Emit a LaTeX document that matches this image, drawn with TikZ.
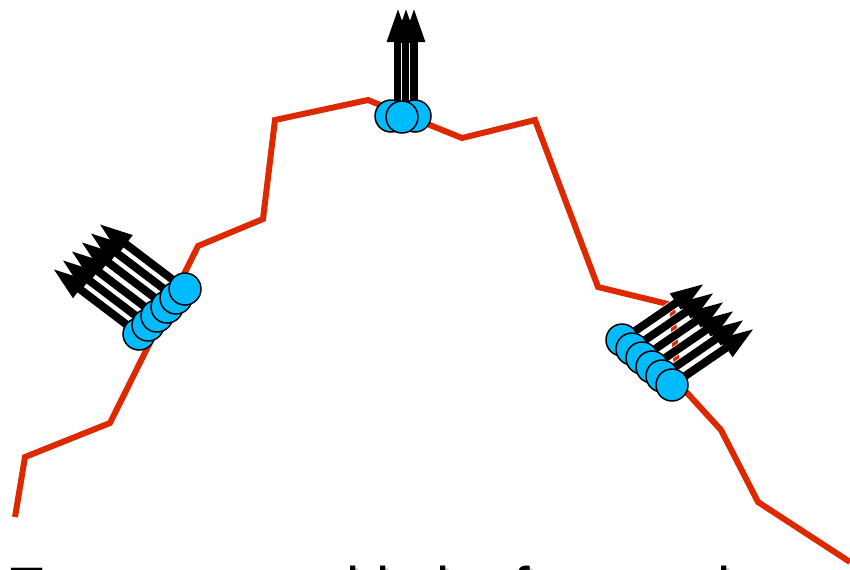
\documentclass[tikz,border=0pt]{standalone}
\usepackage{fontspec}
\setmainfont{Liberation Sans}
\usetikzlibrary{arrows.meta,calc,backgrounds}
\definecolor{ridge}{RGB}{221,40,0}
\definecolor{sky}{RGB}{0,188,255}
\tikzset{pt/.style={circle,draw=black,line width=0.75pt,fill=sky,minimum size=16pt,inner sep=0pt},
  nrm/.style={line width=4pt,-{Triangle[length=17.5pt,width=10pt]},
    preaction={draw=white,line width=4.8pt,arrows=-,shorten >=18pt}},
  ridgeline/.style={draw=ridge,line width=3pt},
  caption/.style={anchor=base west,inner sep=0pt,font=\fontsize{30pt}{36pt}\selectfont}}

\begin{document}
\begin{tikzpicture}[x=0.5pt,y=-0.5pt]
\useasboundingbox (0,0) rectangle (850,569);
% caption, cut by the lower edge
\node[caption,text=gray!45] (capshadow) at (9.5,612){Every normal is its feature in turn};
\node[caption] (cap) at (6.5,609){Every normal is its feature in turn};
% sample points
\node[pt] (t1) at (391,116){}; \node[pt] (t2) at (415,116){}; \node[pt] (t3) at (402,117){};
\node[pt] (l1) at (139,334){}; \node[pt] (l2) at (148,325){}; \node[pt] (l3) at (157,316){};
\node[pt] (l4) at (167,307){}; \node[pt] (l5) at (176,298){}; \node[pt] (l6) at (185,289){};
\node[pt] (r1) at (622,340){}; \node[pt] (r2) at (632,349){}; \node[pt] (r3) at (642,358){};
\node[pt] (r4) at (652,367){}; \node[pt] (r5) at (662,376){}; \node[pt] (r6) at (672,385){};
\begin{pgfonlayer}{background}
\draw[ridgeline] (15,517)--(25,457)--(110,423)--(198,246)--(263,219)--(275,120)--(368,100)--(462,138)
  --(535,120)--(598,287)--(672,305)--(678,383)--(721,430)--(758,502)--(850,562);
% normals
\draw[nrm] ($(t1)+(7,0)$)--++(0,-109); \draw[nrm] ($(t3)+(4,0)$)--++(0,-110); \draw[nrm] ($(t2)+(-1,0)$)--++(0,-109);
\draw[nrm] (l1.center)--++(-87,-66); \draw[nrm] (l2.center)--++(-87,-66); \draw[nrm] (l3.center)--++(-87,-66);
\draw[nrm] (l4.center)--++(-87,-66); \draw[nrm] (l5.center)--++(-87,-66); \draw[nrm] (l6.center)--++(-87,-66);
\draw[nrm] (r1.center)--++(83,-57); \draw[nrm] (r2.center)--++(83,-57); \draw[nrm] (r3.center)--++(83,-57);
\draw[nrm] (r4.center)--++(83,-57); \draw[nrm] (r5.center)--++(83,-57); \draw[nrm] (r6.center)--++(83,-57);
\end{pgfonlayer}
\end{tikzpicture}
\end{document}
